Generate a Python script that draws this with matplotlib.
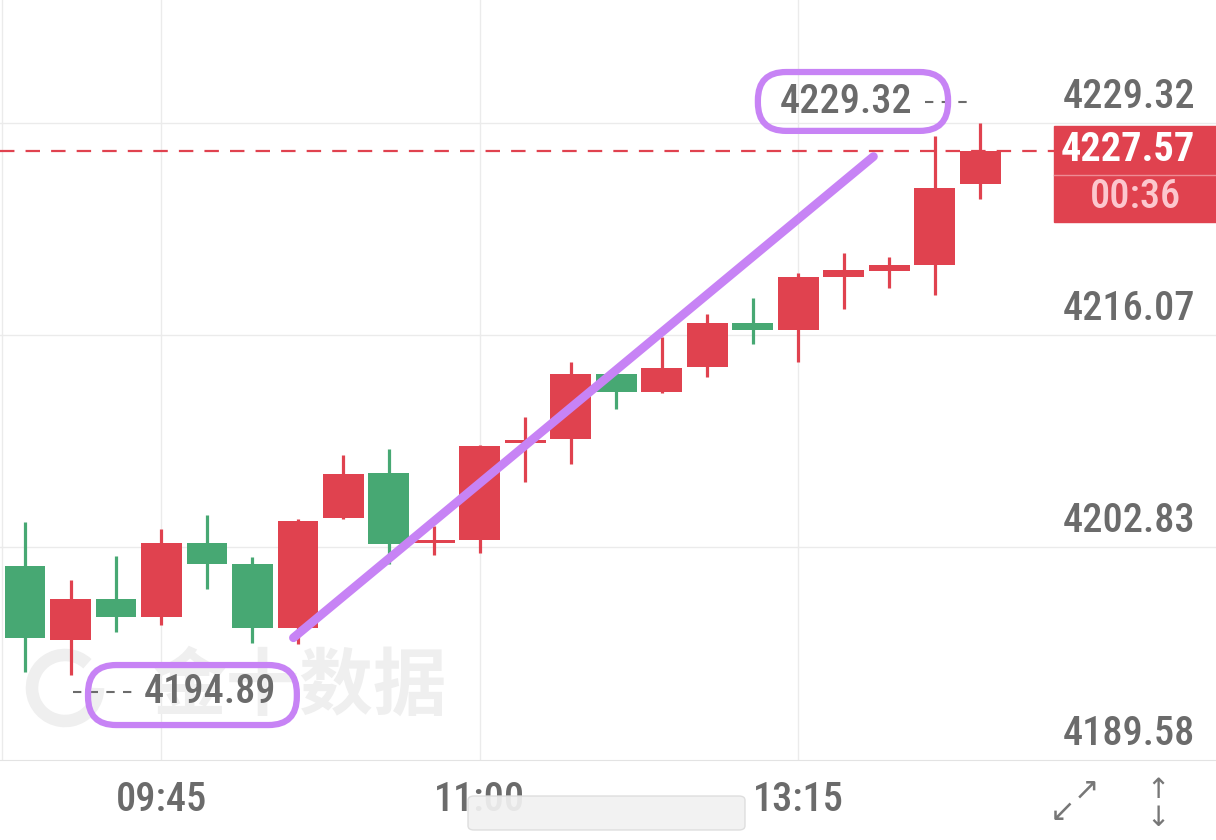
import numpy as np
import matplotlib
matplotlib.use("Agg")
import matplotlib.pyplot as plt
from matplotlib.patches import FancyBboxPatch, Rectangle, Arc

# candle data (red = up, green = down)
opens = [4201.67, 4197.06, 4199.62, 4198.50, 4203.11, 4201.80, 4197.81, 4204.67,
         4207.47, 4203.10, 4203.30, 4209.34, 4209.59, 4213.64, 4212.52, 4214.08,
         4216.82, 4216.39, 4219.69, 4220.07, 4220.44, 4225.49]
highs = [4204.42, 4200.80, 4202.30, 4203.98, 4204.85, 4202.24, 4204.60, 4208.60,
         4208.97, 4204.17, 4209.22, 4210.96, 4214.39, 4213.77, 4215.95, 4217.39,
         4218.38, 4219.94, 4221.19, 4220.94, 4228.48, 4229.32]
lows = [4195.05, 4194.89, 4197.56, 4198.00, 4200.24, 4196.87, 4196.81, 4204.60,
        4201.80, 4202.36, 4202.49, 4206.91, 4208.03, 4211.46, 4212.45, 4213.46,
        4215.52, 4214.39, 4217.70, 4219.01, 4218.57, 4224.56]
closes = [4197.19, 4199.62, 4198.50, 4203.11, 4201.80, 4197.81, 4204.48, 4207.41,
          4203.05, 4203.20, 4209.16, 4209.53, 4213.64, 4212.52, 4214.02, 4216.82,
          4216.39, 4219.69, 4220.13, 4220.44, 4225.24, 4227.57]

price_ticks = [4189.58, 4202.83, 4216.07, 4229.32]
time_pos = [3, 10, 17]
time_labels = ["09:45", "11:00", "13:15"]
countdown = "00:36"

# hand-drawn trend line
trend_x = [5.9, 18.65]
trend_y = [4197.2, 4227.2]

RED = "#e0424f"
GREEN = "#47a873"
PURPLE = "#c783f5"
GRID = "#ebebeb"
TXT = "#6b6b6b"
NUM_FONT = ["Roboto Condensed", "Roboto", "DejaVu Sans"]
FS = 29
FW = "medium"

W, H = 1216, 840
fig = plt.figure(figsize=(W / 100, H / 100), dpi=100)
ax = fig.add_axes([0, 80 / H, 1, 760 / H])
ax.set_xlim(-0.55, 26.18)
ax.set_ylim(4189.58, 4236.96)
for s in ["top", "left", "right"]:
    ax.spines[s].set_visible(False)
ax.spines["bottom"].set_color("#e3e3e3")
ax.set_xticks([])
ax.set_yticks([])

# grid
for v in price_ticks[1:]:
    ax.axhline(v, color=GRID, lw=1, zorder=0)
for x in time_pos:
    ax.axvline(x, color=GRID, lw=1, zorder=0)
ax.axvline(-0.5, color=GRID, lw=1, zorder=0)

# watermark
ax.text(300 / W, 72 / 760, "金十数据", transform=ax.transAxes, ha="center", va="center",
        fontsize=53, fontweight="bold", color="#efefef", family=["Noto Sans CJK SC"], zorder=0)
ax.add_patch(Arc((65 / W, 72 / 760), 66 / W, 66 / 760, theta1=60, theta2=360,
                 transform=ax.transAxes, color="#efefef", lw=9, zorder=0))

# candles
x = np.arange(len(opens))
o = np.array(opens)
c = np.array(closes)
colors = [RED if cc >= oo else GREEN for oo, cc in zip(o, c)]
ax.vlines(x, lows, highs, colors=colors, lw=2.3, zorder=2)
bottoms = np.minimum(o, c)
heights = np.maximum(np.abs(c - o), 0.2)
ax.bar(x, heights, bottom=bottoms, width=0.9, color=colors, zorder=3)

# last price line
last = closes[-1]
ax.axhline(last, xmax=1054 / W, color=RED, lw=1.6, dashes=(6.5, 5), zorder=1)

# right price labels
for v in price_ticks:
    ax.annotate(f"{v:.2f}", xy=(1, v), xycoords=("axes fraction", "data"),
                xytext=(-21, 26), textcoords="offset pixels", ha="right", va="center",
                fontsize=FS, fontweight=FW, color=TXT, family=NUM_FONT)

# time labels
for p, lab in zip(time_pos, time_labels):
    ax.annotate(lab, xy=(p, 0), xycoords=("data", "axes fraction"),
                xytext=(0, -40), textcoords="offset pixels", ha="center", va="center",
                fontsize=FS, fontweight=FW, color=TXT, family=NUM_FONT, annotation_clip=False)

# last price box
fig.add_artist(Rectangle((1054 / W, 1 - 222 / H), 162 / W, 96 / H,
                         transform=fig.transFigure, color=RED, zorder=5))
fig.add_artist(plt.Line2D([1054 / W, 1], [1 - 175 / H] * 2, transform=fig.transFigure,
                          color="#ee8c95", lw=1, zorder=6))
fig.text(1195 / W, 1 - 150 / H, f"{last:.2f}", ha="right", va="center", fontsize=FS,
         fontweight="bold", color="white", family=NUM_FONT, zorder=7)
fig.text(1135 / W, 1 - 197 / H, countdown, ha="center", va="center", fontsize=FS,
         fontweight=FW, color="#fcc7ce", family=NUM_FONT, zorder=7)

# high / low markers
hi_i = int(np.argmax(highs))
lo_i = int(np.argmin(lows))
hi = highs[hi_i]
lo = lows[lo_i]
ax.text(hi_i - 1.5, hi + 1.28, f"{hi:.2f}", ha="right", va="center", fontsize=FS,
        fontweight=FW, color=TXT, family=NUM_FONT, zorder=4)
ax.plot([hi_i - 1.22, hi_i - 0.12], [hi + 1.28] * 2, color=TXT, lw=1.5, dashes=(4, 4), zorder=4)
ax.text(lo_i + 1.6, lo - 1.07, f"{lo:.2f}", ha="left", va="center", fontsize=FS,
        fontweight=FW, color=TXT, family=NUM_FONT, zorder=4)
ax.plot([lo_i + 0.05, lo_i + 1.42], [lo - 1.07] * 2, color=TXT, lw=1.5, dashes=(4, 4), zorder=4)

# purple annotations
asp = 45.5 / 16.04
ax.add_patch(FancyBboxPatch((hi_i - 4.89, hi - 0.52), 4.18, 3.67,
                            boxstyle="round,pad=0,rounding_size=0.62", mutation_aspect=asp,
                            fc="none", ec=PURPLE, lw=4.5, zorder=6))
ax.add_patch(FancyBboxPatch((lo_i + 0.385, lo - 3.13), 4.59, 3.74,
                            boxstyle="round,pad=0,rounding_size=0.62", mutation_aspect=asp,
                            fc="none", ec=PURPLE, lw=4.5, zorder=6))
ax.plot(trend_x, trend_y, color=PURPLE, lw=6.3, solid_capstyle="round", zorder=6)

# smudge over bottom label
fig.add_artist(FancyBboxPatch((468 / W, 1 - 830 / H), 277 / W, 34 / H,
                              boxstyle="round,pad=0,rounding_size=0.005",
                              transform=fig.transFigure, fc="#f1f1f1", ec="#dcdcdc",
                              lw=1, alpha=0.92, zorder=8))

# icons
fig.text(1086 / W, 1 - 790 / H, "↗", ha="center", va="center", fontsize=22, color="#777777")
fig.text(1062 / W, 1 - 812 / H, "↙", ha="center", va="center", fontsize=22, color="#777777")
fig.text(1158 / W, 1 - 790 / H, "↑", ha="center", va="center", fontsize=20, color="#777777")
fig.text(1158 / W, 1 - 818 / H, "↓", ha="center", va="center", fontsize=20, color="#777777")

fig.savefig("out.png", dpi=100)
